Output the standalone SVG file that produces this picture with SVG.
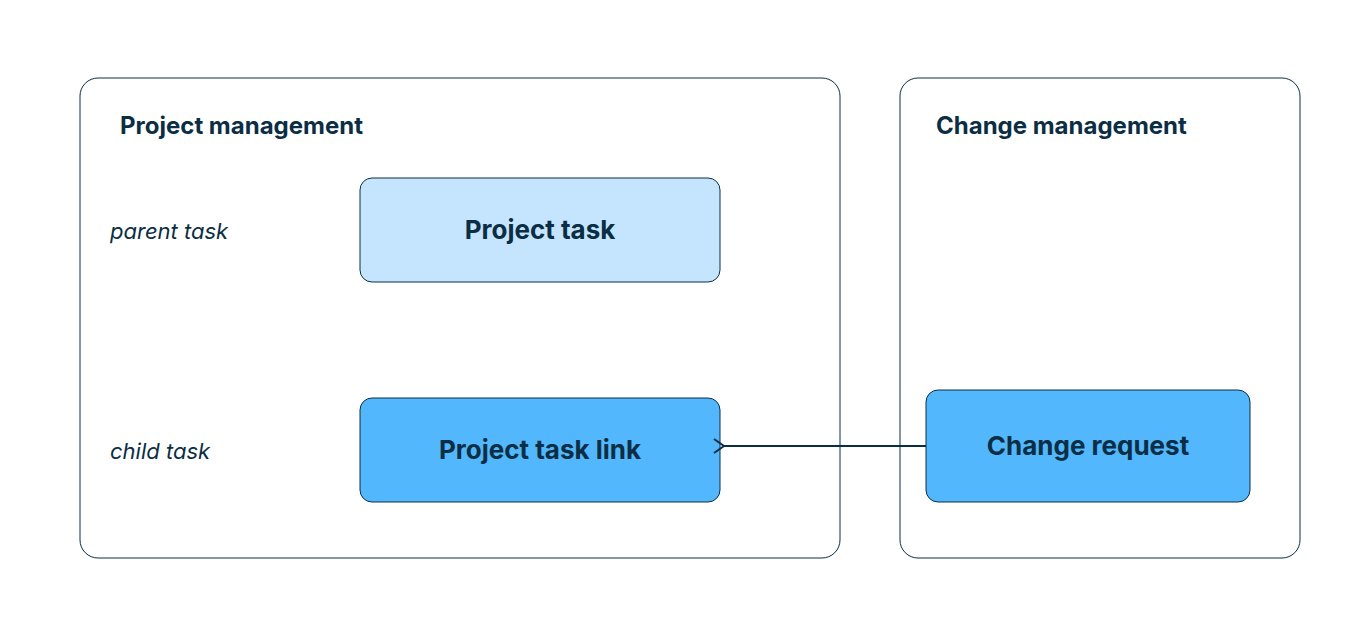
<svg xmlns="http://www.w3.org/2000/svg" width="1360" height="632" viewBox="0 0 1360 632">
<style>
.c{fill:#fff;stroke:#0b2e44;stroke-width:1}
.n{stroke:#0b2e44;stroke-width:1}
.t{font-family:Inter,"Noto Sans",sans-serif;font-weight:700;fill:#0b2e44}
.i{font-family:Inter,"Noto Sans",sans-serif;font-style:italic;fill:#0b2e44;font-size:22px}
</style>
<defs><marker id="a" markerWidth="14" markerHeight="16" refX="2" refY="8" orient="auto" markerUnits="userSpaceOnUse"><path d="M12,1 L2,8 L12,15" fill="none" stroke="#0b2e44" stroke-width="2"/></marker></defs>
<rect width="1360" height="632" fill="#fff"/>
<g id="pm"><rect class="c" x="80" y="78" width="760" height="480" rx="18"/><text class="t" x="120" y="134" font-size="24">Project management</text>
<text class="i" x="110" y="239">parent task</text><text class="i" x="110" y="459">child task</text></g>
<g id="cm"><rect class="c" x="900" y="78" width="400" height="480" rx="18"/><text class="t" x="936" y="134" font-size="24">Change management</text></g>
<g id="pt"><rect class="n" x="360" y="178" width="360" height="104" rx="12" fill="#c4e5fd"/><text class="t" x="540" y="239" font-size="26" text-anchor="middle">Project task</text></g>
<g id="ptl"><rect class="n" x="360" y="398" width="360" height="104" rx="12" fill="#52b7fd"/><text class="t" x="540" y="459" font-size="26" text-anchor="middle">Project task link</text></g>
<g id="cr"><rect class="n" x="926" y="390" width="324" height="112" rx="12" fill="#52b7fd"/><text class="t" x="1088" y="455" font-size="26" text-anchor="middle">Change request</text></g>
<g id="connectors"><line x1="926" y1="446" x2="724" y2="446" stroke="#0b2e44" stroke-width="2" marker-end="url(#a)"/></g>
</svg>
